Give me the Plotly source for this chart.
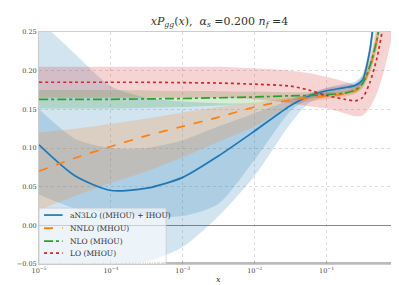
import plotly.graph_objects as go

# log10(x) grid
logx = [-5, -4.5, -4, -3.5, -3, -2.5, -2, -1.5, -1.25, -1, -0.75, -0.6, -0.5, -0.4, -0.3, -0.2, -0.1, -0.02]
x = [10 ** v for v in logx]

# aN3LO ((MHOU) + IHOU)
n3lo = [0.104, 0.064, 0.045, 0.048, 0.062, 0.090, 0.122, 0.155, 0.167, 0.174, 0.178, 0.181, 0.188, 0.225, 0.300, 0.38, 0.46, 0.55]
n3lo_out_hi = [0.265, 0.222, 0.180, 0.165, 0.160, 0.158, 0.158, 0.163, 0.170, 0.178, 0.183, 0.186, 0.195, 0.235, 0.310, 0.39, 0.47, 0.56]
n3lo_out_lo = [-0.070, -0.060, -0.052, -0.047, -0.028, 0.012, 0.064, 0.132, 0.158, 0.167, 0.172, 0.175, 0.182, 0.212, 0.280, 0.36, 0.44, 0.53]
n3lo_in_hi = [0.150, 0.112, 0.100, 0.100, 0.110, 0.128, 0.145, 0.162, 0.170, 0.177, 0.181, 0.184, 0.193, 0.230, 0.300, 0.38, 0.46, 0.55]
n3lo_in_lo = [0.040, 0.022, 0.016, 0.012, 0.012, 0.028, 0.085, 0.148, 0.163, 0.170, 0.175, 0.178, 0.185, 0.218, 0.290, 0.37, 0.45, 0.54]

# NNLO (MHOU)
nnlo = [0.070, 0.087, 0.102, 0.116, 0.128, 0.140, 0.153, 0.162, 0.165, 0.167, 0.170, 0.174, 0.182, 0.203, 0.240, 0.30, 0.38, 0.46]
nnlo_hi = [0.120, 0.125, 0.131, 0.138, 0.146, 0.153, 0.159, 0.165, 0.168, 0.171, 0.174, 0.178, 0.187, 0.210, 0.250, 0.31, 0.39, 0.47]
nnlo_lo = [0.020, 0.038, 0.055, 0.070, 0.088, 0.108, 0.128, 0.155, 0.160, 0.163, 0.166, 0.170, 0.177, 0.196, 0.230, 0.29, 0.37, 0.45]

# NLO (MHOU)
nlo = [0.163, 0.163, 0.163, 0.1635, 0.164, 0.165, 0.166, 0.1675, 0.168, 0.169, 0.171, 0.175, 0.183, 0.205, 0.240, 0.30, 0.38, 0.46]
nlo_hi = [0.175, 0.175, 0.175, 0.1745, 0.174, 0.1735, 0.173, 0.172, 0.172, 0.172, 0.174, 0.179, 0.188, 0.212, 0.250, 0.31, 0.39, 0.47]
nlo_lo = [0.151, 0.151, 0.151, 0.152, 0.153, 0.155, 0.158, 0.162, 0.164, 0.165, 0.168, 0.171, 0.178, 0.198, 0.230, 0.29, 0.37, 0.45]

# LO (MHOU)
lo = [0.185, 0.185, 0.185, 0.185, 0.1845, 0.184, 0.1825, 0.180, 0.175, 0.168, 0.163, 0.161, 0.165, 0.184, 0.216, 0.265, 0.33, 0.40]
lo_hi = [0.205, 0.205, 0.205, 0.205, 0.205, 0.205, 0.203, 0.200, 0.197, 0.192, 0.186, 0.182, 0.190, 0.215, 0.262, 0.32, 0.39, 0.46]
lo_lo = [0.165, 0.165, 0.165, 0.165, 0.165, 0.165, 0.163, 0.158, 0.154, 0.151, 0.145, 0.141, 0.142, 0.152, 0.170, 0.200, 0.240, 0.28]

series_names = ["aN3LO ((MHOU) + IHOU)", "NNLO (MHOU)", "NLO (MHOU)", "LO (MHOU)"]

ytick_vals = [-0.05, 0.0, 0.05, 0.10, 0.15, 0.20, 0.25]
ytick_text = ["\u22120.05", "0.00", "0.05", "0.10", "0.15", "0.20", "0.25"]
xtick_vals = [1e-5, 1e-4, 1e-3, 1e-2, 1e-1]
xtick_text = ["10<sup>\u22125</sup>", "10<sup>\u22124</sup>", "10<sup>\u22123</sup>", "10<sup>\u22122</sup>", "10<sup>\u22121</sup>"]

BLUE, ORANGE, GREEN, RED = "#1f77b4", "#ff7f0e", "#2ca02c", "#d62728"
COLORS = [BLUE, ORANGE, GREEN, RED]
DASHES = ["solid", "dash", "dashdot", "dot"]

def rgba(h, a):
    h = h.lstrip("#")
    return "rgba(%d,%d,%d,%s)" % (int(h[0:2], 16), int(h[2:4], 16), int(h[4:6], 16), a)

fig = go.Figure()

def band(hi, lo_, color, alpha):
    fig.add_trace(go.Scatter(x=x, y=hi, mode="lines", line=dict(width=0, shape="spline", smoothing=0.7),
                             showlegend=False, hoverinfo="skip"))
    fig.add_trace(go.Scatter(x=x, y=lo_, mode="lines", line=dict(width=0, shape="spline", smoothing=0.7),
                             fill="tonexty", fillcolor=rgba(color, alpha), showlegend=False, hoverinfo="skip"))

band(n3lo_out_hi, n3lo_out_lo, BLUE, 0.2)
band(n3lo_in_hi, n3lo_in_lo, BLUE, 0.2)
band(nnlo_hi, nnlo_lo, ORANGE, 0.2)
band(nlo_hi, nlo_lo, GREEN, 0.2)
band(lo_hi, lo_lo, RED, 0.2)

for ys, name, col, dash in zip([n3lo, nnlo, nlo, lo], series_names, COLORS, DASHES):
    fig.add_trace(go.Scatter(x=x, y=ys, mode="lines", name=name, showlegend=False,
                             line=dict(color=col, width=1.7, dash=dash, shape="spline", smoothing=0.7)))

SERIF = "DejaVu Serif"

# hand-built legend (matplotlib-like compact box, lower left)
shapes = [dict(type="rect", xref="paper", yref="paper", x0=0.0, x1=0.355, y0=0.0, y1=0.241,
               fillcolor="rgba(255,255,255,0.6)", line=dict(color="rgba(200,200,200,0.7)", width=1),
               layer="above")]
annotations = []
leg_y = [0.211, 0.155, 0.099, 0.047]
for yy, name, col, dash in zip(leg_y, series_names, COLORS, DASHES):
    shapes.append(dict(type="line", xref="paper", yref="paper", x0=0.014, x1=0.066, y0=yy, y1=yy,
                       line=dict(color=col, width=1.7, dash=dash), layer="above"))
    annotations.append(dict(xref="paper", yref="paper", x=0.08, y=yy, xanchor="left", yanchor="middle",
                            text=name, showarrow=False, font=dict(family=SERIF, size=7.5, color="#333")))
annotations.append(dict(xref="paper", yref="paper", x=0.5, y=-0.065, xanchor="center", yanchor="middle",
                        text="<i>x</i>", showarrow=False, font=dict(family=SERIF, size=8, color="#333")))

fig.update_layout(
    width=399, height=285,
    margin=dict(l=29, r=9, t=24, b=29),
    paper_bgcolor="white", plot_bgcolor="white",
    font=dict(family=SERIF, size=7, color="#444"),
    title=dict(text="<i>xP<sub>gg</sub></i>(<i>x</i>),  <i>\u03b1<sub>s</sub></i> =0.200 <i>n<sub>f</sub></i> =4",
               x=0.53, xanchor="center", y=0.955, yanchor="middle",
               font=dict(family=SERIF, size=11, color="#333")),
    showlegend=False,
    shapes=shapes,
    annotations=annotations,
)
fig.update_xaxes(type="log", range=[-5, -0.02], tickvals=xtick_vals, ticktext=xtick_text,
                 showgrid=True, gridcolor="#dddddd", griddash="dot", gridwidth=1,
                 showline=True, linecolor="#cccccc", linewidth=1, mirror=True,
                 ticks="inside", ticklen=3, tickcolor="#aaaaaa",
                 minor=dict(ticks="inside", ticklen=2, tickcolor="#bbbbbb", showgrid=False),
                 tickfont=dict(size=6.5), zeroline=False)
fig.update_yaxes(range=[-0.05, 0.25], tickvals=ytick_vals, ticktext=ytick_text,
                 showgrid=True, gridcolor="#dddddd", griddash="dot", gridwidth=1,
                 showline=True, linecolor="#cccccc", linewidth=1, mirror=True,
                 ticks="", tickfont=dict(size=6.5),
                 zeroline=True, zerolinecolor="#888888", zerolinewidth=1)

fig.write_html("out.html")
